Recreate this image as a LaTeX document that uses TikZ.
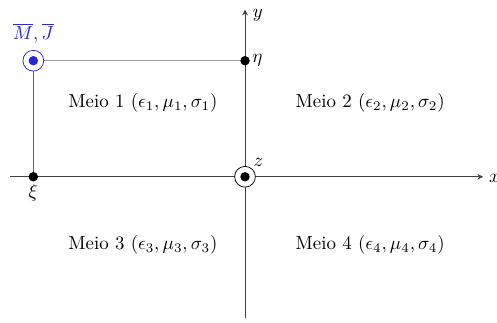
\documentclass[tikz,border=0pt]{standalone}
\usepackage{tikz}
\usetikzlibrary{positioning,arrows.meta,calc}
\definecolor{fonte}{RGB}{40,40,210}

\begin{document}
\begin{tikzpicture}[scale=1.0,
    eixo/.style={black!75,-{Stealth[length=3pt,width=3pt]}},
    ponto/.style={circle,fill=black,inner sep=0pt,minimum size=5pt},
    fio/.style={circle,draw=black,fill=white,inner sep=0pt,minimum size=11pt},
    meio/.style={font=\normalsize}]
  \useasboundingbox (-4.56,-2.72) rectangle (4.69,3.29);
  % eixos
  \coordinate (xa) at (-4.37,0);
  \coordinate (xb) at (4.43,0);
  \coordinate (ya) at (0,-2.62);
  \coordinate (yb) at (0,3.11);
  \draw[eixo] (xa) -- (xb);
  \draw[eixo] (ya) -- (yb);
  \node[right=2pt of xb,inner sep=1pt,yshift=-1pt] (xl) {$x$};
  \node[right=3pt of yb,inner sep=1pt,yshift=-3pt] (yl) {$y$};
  % pontos
  \node[fio] (org) at (0,0) {};
  \node[ponto] (orgc) at (org) {};
  \node[above right=-2pt and -3pt of org] (zl) {$z$};
  \node[ponto] (eta) at (0,2.16) {};
  \node[right=0pt of eta,inner sep=1pt] (etal) {$\eta$};
  \node[ponto] (xi) at (-3.94,0) {};
  \node[below=0pt of xi,inner sep=1pt] (xil) {$\xi$};
  \node[fio,draw=fonte] (src) at (-3.94,2.16) {};
  \node[ponto,fill=fonte] (srcc) at (src) {};
  \draw[black!40] (src) -- (eta);
  \draw[fonte!60!black!70] (src) -- (xi);
  \node[fonte,above=0pt of src] (srcl) {$\overline{M},\overline{J}$};
  % meios
  \node[meio] (m1) at (-1.90,1.38) {Meio 1 $(\epsilon_1,\mu_1,\sigma_1)$};
  \node[meio] (m2) at (2.33,1.38) {Meio 2 $(\epsilon_2,\mu_2,\sigma_2)$};
  \node[meio] (m3) at (-1.90,-1.26) {Meio 3 $(\epsilon_3,\mu_3,\sigma_3)$};
  \node[meio] (m4) at (2.33,-1.26) {Meio 4 $(\epsilon_4,\mu_4,\sigma_4)$};
\end{tikzpicture}
\end{document}
